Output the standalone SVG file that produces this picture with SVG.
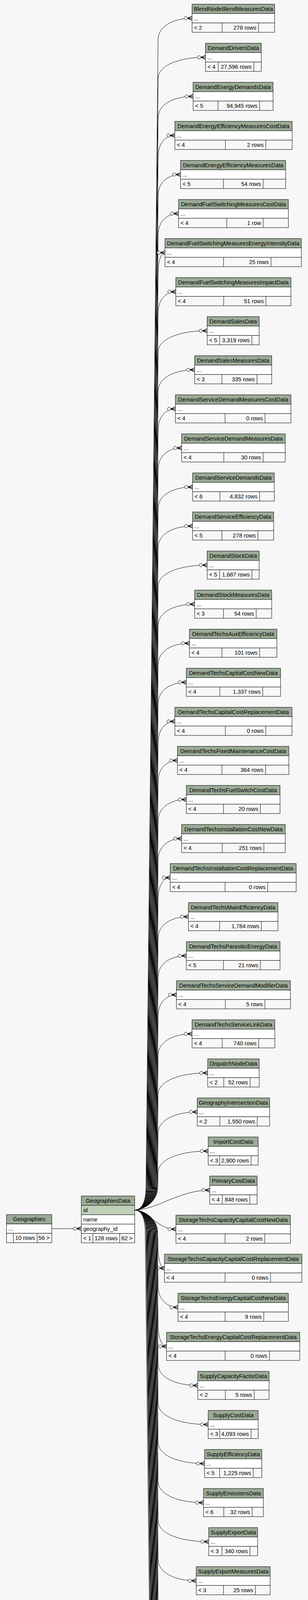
<svg xmlns="http://www.w3.org/2000/svg" width="789" height="6555" viewBox="0 0 789 6555">
<style>
text{font-family:"Liberation Sans",Arial,sans-serif;font-size:14.5px;fill:#000}
.c{text-anchor:middle}.e{text-anchor:end}
.h{fill:#9bab96;stroke:#000;stroke-width:1}
.w{fill:#fff;stroke:#000;stroke-width:1}
.f{fill:#f7f7f7;stroke:#000;stroke-width:1}
.k{fill:#bed1b8;stroke:#000;stroke-width:1}
.i{fill:#f4f7da;stroke:#000;stroke-width:1}
.d{fill:none;stroke:#000;stroke-width:1}
.ln{fill:none;stroke:#000;stroke-width:1;marker-end:url(#crow)}
.pl{fill:none;stroke:#000;stroke-width:1}
</style>
<defs>
<marker id="crow" markerUnits="userSpaceOnUse" orient="auto" refX="0" refY="0" markerWidth="24" markerHeight="16" viewBox="-22 -8 24 16" overflow="visible">
<path d="M-12 0L0 -5M-12 0L0 0M-12 0L0 5" fill="none" stroke="#000" stroke-width="1.5"/>
<circle cx="-16.3" cy="0" r="4.2" fill="#f7f7f7" stroke="#000" stroke-width="1"/>
</marker>
</defs>
<rect x="0" y="0" width="789" height="6555" fill="#f7f7f7"/>

<g id="connectors">
<path class="ln" d="M132.7 3145.3L208.3 3145.3"/>
<path class="ln" d="M345 3097.7C360 3097.7 374 3082.7 374 3037.7L405 101.7C405 66.7 444.2 46.7 492 46.7"/>
<path class="ln" d="M345 3097.7C360 3097.7 375 3082.7 375 3037.7L405 201.7C405 166.7 459.6 146.7 526.4 146.7"/>
<path class="ln" d="M345 3097.7C360 3097.7 376.1 3082.7 376.1 3037.7L405 301.7C405 266.7 445.4 246.7 494.7 246.7"/>
<path class="ln" d="M345 3097.7C360 3097.7 377.1 3082.7 377.1 3037.7L405 401.7C405 366.7 424.3 346.7 447.9 346.7"/>
<path class="ln" d="M345 3097.7C360 3097.7 378.1 3082.7 378.1 3037.7L405 501.7C405 466.7 430.9 446.7 462.5 446.7"/>
<path class="ln" d="M345 3097.7C360 3097.7 379.2 3082.7 379.2 3037.7L405 601.7C405 566.7 428.5 546.7 457.3 546.7"/>
<path class="ln" d="M345 3097.7C360 3097.7 380.2 3082.7 380.2 3037.7L405 701.7C405 666.7 413 646.7 422.7 646.7"/>
<path class="ln" d="M345 3097.7C360 3097.7 381.2 3082.7 381.2 3037.7L405 801.7C405 766.7 425.4 746.7 450.3 746.7"/>
<path class="ln" d="M345 3097.7C360 3097.7 382.3 3082.7 382.3 3037.7L405 901.7C405 866.7 461.6 846.7 530.7 846.7"/>
<path class="ln" d="M345 3097.7C360 3097.7 383.3 3082.7 383.3 3037.7L405 1001.7C405 966.7 447.2 946.7 498.7 946.7"/>
<path class="ln" d="M345 3097.7C360 3097.7 384.3 3082.7 384.3 3037.7L405 1101.7C405 1066.7 424.9 1046.7 449.3 1046.7"/>
<path class="ln" d="M345 3097.7C360 3097.7 385.4 3082.7 385.4 3037.7L405 1201.7C405 1166.7 432.1 1146.7 465.3 1146.7"/>
<path class="ln" d="M345 3097.7C360 3097.7 386.4 3082.7 386.4 3037.7L405 1301.7C405 1266.7 444.7 1246.7 493.3 1246.7"/>
<path class="ln" d="M345 3097.7C360 3097.7 387.4 3082.7 387.4 3037.7L405 1401.7C405 1366.7 444.7 1346.7 493.3 1346.7"/>
<path class="ln" d="M345 3097.7C360 3097.7 388.5 3082.7 388.5 3037.7L405 1501.7C405 1466.7 461.6 1446.7 530.7 1446.7"/>
<path class="ln" d="M345 3097.7C360 3097.7 389.5 3082.7 389.5 3037.7L405 1601.7C405 1566.7 447.2 1546.7 498.7 1546.7"/>
<path class="ln" d="M345 3097.7C360 3097.7 390.6 3082.7 390.6 3037.7L405 1701.7C405 1666.7 441.1 1646.7 485.3 1646.7"/>
<path class="ln" d="M345 3097.7C360 3097.7 391.6 3082.7 391.6 3037.7L405 1801.7C405 1766.7 437.5 1746.7 477.3 1746.7"/>
<path class="ln" d="M345 3097.7C360 3097.7 392.6 3082.7 392.6 3037.7L405 1901.7C405 1866.7 424.4 1846.7 448 1846.7"/>
<path class="ln" d="M345 3097.7C360 3097.7 393.7 3082.7 393.7 3037.7L405 2001.7C405 1966.7 427.4 1946.7 454.7 1946.7"/>
<path class="ln" d="M345 3097.7C360 3097.7 394.7 3082.7 394.7 3037.7L405 2101.7C405 2066.7 437.5 2046.7 477.3 2046.7"/>
<path class="ln" d="M345 3097.7C360 3097.7 395.7 3082.7 395.7 3037.7L405 2201.7C405 2166.7 432.1 2146.7 465.3 2146.7"/>
<path class="ln" d="M345 3097.7C360 3097.7 396.8 3082.7 396.8 3037.7L405 2301.7C405 2266.7 419 2246.7 436 2246.7"/>
<path class="ln" d="M345 3097.7C360 3097.7 397.8 3082.7 397.8 3037.7L405 2401.7C405 2366.7 440 2346.7 482.7 2346.7"/>
<path class="ln" d="M345 3097.7C360 3097.7 398.8 3082.7 398.8 3037.7L405 2501.7C405 2466.7 437.5 2446.7 477.3 2446.7"/>
<path class="ln" d="M345 3097.7C360 3097.7 399.9 3082.7 399.9 3037.7L405 2601.7C405 2566.7 426.2 2546.7 452 2546.7"/>
<path class="ln" d="M345 3097.7C360 3097.7 400.9 3082.7 400.9 3037.7L405 2701.7C405 2666.7 444.2 2646.7 492 2646.7"/>
<path class="ln" d="M345 3097.7C360 3097.7 401.9 3082.7 401.9 3037.7L405 2801.7C405 2766.7 462.2 2746.7 532 2746.7"/>
<path class="ln" d="M345 3097.7C360 3097.7 403 3082.7 403 3037.7L405 2901.7C405 2866.7 450.1 2846.7 505.3 2846.7"/>
<path class="ln" d="M345 3097.7C360 3097.7 404 3082.7 404 3037.7L405 3001.7C405 2966.7 462.7 2946.7 533.3 2946.7"/>
<path class="ln" d="M345 3097.7C400 3097.7 460 3046.7 537.3 3046.7"/>
<path class="ln" d="M345 3097.7C380 3097.7 400 3146.7 450.7 3146.7"/>
<path class="ln" d="M345 3097.7C360 3097.7 404 3112.7 404 3157.7L405 3191.7C405 3226.7 412.3 3246.7 421.3 3246.7"/>
<path class="ln" d="M345 3097.7C360 3097.7 402.9 3112.7 402.9 3157.7L405 3291.7C405 3326.7 427.9 3346.7 456 3346.7"/>
<path class="ln" d="M345 3097.7C360 3097.7 401.9 3112.7 401.9 3157.7L405 3391.7C405 3426.7 414.8 3446.7 426.7 3446.7"/>
<path class="ln" d="M345 3097.7C360 3097.7 400.8 3112.7 400.8 3157.7L405 3491.7C405 3526.7 450.8 3546.7 506.7 3546.7"/>
<path class="ln" d="M345 3097.7C360 3097.7 399.7 3112.7 399.7 3157.7L405 3591.7C405 3626.7 462.7 3646.7 533.3 3646.7"/>
<path class="ln" d="M345 3097.7C360 3097.7 398.7 3112.7 398.7 3157.7L405 3691.7C405 3726.7 458.6 3746.7 524 3746.7"/>
<path class="ln" d="M345 3097.7C360 3097.7 397.6 3112.7 397.6 3157.7L405 3791.7C405 3826.7 457.3 3846.7 521.3 3846.7"/>
<path class="ln" d="M345 3097.7C360 3097.7 396.5 3112.7 396.5 3157.7L405 3891.7C405 3926.7 463.4 3946.7 534.7 3946.7"/>
<path class="ln" d="M345 3097.7C360 3097.7 395.4 3112.7 395.4 3157.7L405 3991.7C405 4026.7 449 4046.7 502.7 4046.7"/>
<path class="ln" d="M345 3097.7C360 3097.7 394.4 3112.7 394.4 3157.7L405 4091.7C405 4126.7 443.6 4146.7 490.7 4146.7"/>
<path class="ln" d="M345 3097.7C360 3097.7 393.3 3112.7 393.3 3157.7L405 4191.7C405 4226.7 460.4 4246.7 528 4246.7"/>
<path class="ln" d="M345 3097.7C360 3097.7 392.2 3112.7 392.2 3157.7L405 4291.7C405 4326.7 462.7 4346.7 533.3 4346.7"/>
<path class="ln" d="M345 3097.7C360 3097.7 391.2 3112.7 391.2 3157.7L405 4391.7C405 4426.7 450.1 4446.7 505.3 4446.7"/>
<path class="ln" d="M345 3097.7C360 3097.7 390.1 3112.7 390.1 3157.7L405 4491.7C405 4526.7 455.5 4546.7 517.3 4546.7"/>
<path class="ln" d="M345 3097.7C360 3097.7 389 3112.7 389 3157.7L405 4591.7C405 4626.7 441.1 4646.7 485.3 4646.7"/>
<path class="ln" d="M345 3097.7C360 3097.7 388 3112.7 388 3157.7L405 4691.7C405 4726.7 460.9 4746.7 529.3 4746.7"/>
<path class="ln" d="M345 3097.7C360 3097.7 386.9 3112.7 386.9 3157.7L405 4791.7C405 4826.7 450.1 4846.7 505.3 4846.7"/>
<path class="ln" d="M345 3097.7C360 3097.7 385.8 3112.7 385.8 3157.7L405 4891.7C405 4926.7 441.1 4946.7 485.3 4946.7"/>
<path class="ln" d="M345 3097.7C360 3097.7 384.7 3112.7 384.7 3157.7L405 4991.7C405 5026.7 440 5046.7 482.7 5046.7"/>
<path class="ln" d="M345 3097.7C360 3097.7 383.7 3112.7 383.7 3157.7L405 5091.7C405 5126.7 426.7 5146.7 453.3 5146.7"/>
<path class="ln" d="M345 3097.7C360 3097.7 382.6 3112.7 382.6 3157.7L405 5191.7C405 5226.7 451.9 5246.7 509.3 5246.7"/>
<path class="ln" d="M345 3097.7C360 3097.7 381.5 3112.7 381.5 3157.7L405 5291.7C405 5326.7 444.7 5346.7 493.3 5346.7"/>
<path class="ln" d="M345 3097.7C360 3097.7 380.5 3112.7 380.5 3157.7L405 5391.7C405 5426.7 456.2 5446.7 518.7 5446.7"/>
<path class="ln" d="M345 3097.7C360 3097.7 379.4 3112.7 379.4 3157.7L405 5491.7C405 5526.7 449.6 5546.7 504 5546.7"/>
<path class="ln" d="M345 3097.7C360 3097.7 378.3 3112.7 378.3 3157.7L405 5591.7C405 5626.7 430.3 5646.7 461.3 5646.7"/>
<path class="ln" d="M345 3097.7C360 3097.7 377.3 3112.7 377.3 3157.7L405 5691.7C405 5726.7 434.6 5746.7 470.7 5746.7"/>
<path class="ln" d="M345 3097.7C360 3097.7 376.2 3112.7 376.2 3157.7L405 5791.7C405 5826.7 422 5846.7 442.7 5846.7"/>
<path class="ln" d="M345 3097.7C360 3097.7 375.1 3112.7 375.1 3157.7L405 5891.7C405 5926.7 433.4 5946.7 468 5946.7"/>
<path class="ln" d="M345 3097.7C360 3097.7 374 3112.7 374 3157.7L405 5991.7C405 6026.7 426.7 6046.7 453.3 6046.7"/>
<path class="ln" d="M345 3097.7C360 3097.7 372 3112.7 372 3157.7L405 6117.7C405 6152.7 428.9 6172.7 457 6172.7"/>
<path class="ln" d="M338 6118.7C385 6118.7 400 6196.7 457 6196.7"/>
<path class="ln" d="M356.3 6242.5C395 6242.5 410 6220.7 457 6220.7"/>
<path class="ln" d="M327.1 6388.7L457 6388.7"/>
</g>

<g id="t0" transform="translate(492 10.7)"><rect class="h" width="211.5" height="24"/><rect class="w" y="24" width="211.5" height="24"/><rect class="f" y="48" width="211.5" height="24"/><path class="d" d="M77 48v24M170.3 48v24"/><text class="c" x="105.75" y="17">BlendNodeBlendMeasuresData</text><text x="5" y="41">...</text><text x="5" y="65">&lt; 2</text><text class="e" x="164.8" y="65">278 rows</text></g>
<g id="t1" transform="translate(526.4 110.7)"><rect class="h" width="142.9" height="24"/><rect class="w" y="24" width="142.9" height="24"/><rect class="f" y="48" width="142.9" height="24"/><path class="d" d="M32.7 48v24M123.9 48v24"/><text class="c" x="71.45" y="17">DemandDriversData</text><text x="5" y="41">...</text><text x="5" y="65">&lt; 4</text><text class="e" x="118.4" y="65">27,596 rows</text></g>
<g id="t2" transform="translate(494.7 210.7)"><rect class="h" width="204.8" height="24"/><rect class="w" y="24" width="204.8" height="24"/><rect class="f" y="48" width="204.8" height="24"/><path class="d" d="M63.6 48v24M170.3 48v24"/><text class="c" x="102.4" y="17">DemandEnergyDemandsData</text><text x="5" y="41">...</text><text x="5" y="65">&lt; 5</text><text class="e" x="164.8" y="65">94,945 rows</text></g>
<g id="t3" transform="translate(447.9 310.7)"><rect class="h" width="300.5" height="24"/><rect class="w" y="24" width="300.5" height="24"/><rect class="f" y="48" width="300.5" height="24"/><path class="d" d="M129.6 48v24M233 48v24"/><text class="c" x="150.25" y="17">DemandEnergyEfficiencyMeasuresCostData</text><text x="5" y="41">...</text><text x="5" y="65">&lt; 4</text><text class="e" x="227.5" y="65">2 rows</text></g>
<g id="t4" transform="translate(462.5 410.7)"><rect class="h" width="269.3" height="24"/><rect class="w" y="24" width="269.3" height="24"/><rect class="f" y="48" width="269.3" height="24"/><path class="d" d="M109.9 48v24M211.6 48v24"/><text class="c" x="134.65" y="17">DemandEnergyEfficiencyMeasuresData</text><text x="5" y="41">...</text><text x="5" y="65">&lt; 5</text><text class="e" x="206.1" y="65">54 rows</text></g>
<g id="t5" transform="translate(457.3 510.7)"><rect class="h" width="281.4" height="24"/><rect class="w" y="24" width="281.4" height="24"/><rect class="f" y="48" width="281.4" height="24"/><path class="d" d="M123.6 48v24M216.9 48v24"/><text class="c" x="140.7" y="17">DemandFuelSwitchingMeasuresCostData</text><text x="5" y="41">...</text><text x="5" y="65">&lt; 4</text><text class="e" x="211.4" y="65">1 row</text></g>
<g id="t6" transform="translate(422.7 610.7)"><rect class="h" width="349.3" height="24"/><rect class="w" y="24" width="349.3" height="24"/><rect class="f" y="48" width="349.3" height="24"/><path class="d" d="M150 48v24M271.6 48v24"/><text class="c" x="174.65" y="17">DemandFuelSwitchingMeasuresEnergyIntensityData</text><text x="5" y="41">...</text><text x="5" y="65">&lt; 4</text><text class="e" x="266.1" y="65">25 rows</text></g>
<g id="t7" transform="translate(450.3 710.7)"><rect class="h" width="295" height="24"/><rect class="w" y="24" width="295" height="24"/><rect class="f" y="48" width="295" height="24"/><path class="d" d="M122.75 48v24M230.9 48v24"/><text class="c" x="147.5" y="17">DemandFuelSwitchingMeasuresImpactData</text><text x="5" y="41">...</text><text x="5" y="65">&lt; 4</text><text class="e" x="225.4" y="65">51 rows</text></g>
<g id="t8" transform="translate(530.7 810.7)"><rect class="h" width="133.3" height="24"/><rect class="w" y="24" width="133.3" height="24"/><rect class="f" y="48" width="133.3" height="24"/><path class="d" d="M32 48v24M114.6 48v24"/><text class="c" x="66.65" y="17">DemandSalesData</text><text x="5" y="41">...</text><text x="5" y="65">&lt; 5</text><text class="e" x="109.1" y="65">3,319 rows</text></g>
<g id="t9" transform="translate(498.7 910.7)"><rect class="h" width="197.3" height="24"/><rect class="w" y="24" width="197.3" height="24"/><rect class="f" y="48" width="197.3" height="24"/><path class="d" d="M69.9 48v24M159.6 48v24"/><text class="c" x="98.65" y="17">DemandSalesMeasuresData</text><text x="5" y="41">...</text><text x="5" y="65">&lt; 3</text><text class="e" x="154.1" y="65">335 rows</text></g>
<g id="t10" transform="translate(449.3 1010.7)"><rect class="h" width="296" height="24"/><rect class="w" y="24" width="296" height="24"/><rect class="f" y="48" width="296" height="24"/><path class="d" d="M127.3 48v24M229.6 48v24"/><text class="c" x="148" y="17">DemandServiceDemandMeasuresCostData</text><text x="5" y="41">...</text><text x="5" y="65">&lt; 4</text><text class="e" x="224.1" y="65">0 rows</text></g>
<g id="t11" transform="translate(465.3 1110.7)"><rect class="h" width="265.4" height="24"/><rect class="w" y="24" width="265.4" height="24"/><rect class="f" y="48" width="265.4" height="24"/><path class="d" d="M108 48v24M208.7 48v24"/><text class="c" x="132.7" y="17">DemandServiceDemandMeasuresData</text><text x="5" y="41">...</text><text x="5" y="65">&lt; 4</text><text class="e" x="203.2" y="65">30 rows</text></g>
<g id="t12" transform="translate(493.3 1210.7)"><rect class="h" width="209.4" height="24"/><rect class="w" y="24" width="209.4" height="24"/><rect class="f" y="48" width="209.4" height="24"/><path class="d" d="M69.9 48v24M171.7 48v24"/><text class="c" x="104.7" y="17">DemandServiceDemandsData</text><text x="5" y="41">...</text><text x="5" y="65">&lt; 6</text><text class="e" x="166.2" y="65">4,832 rows</text></g>
<g id="t13" transform="translate(493.3 1310.7)"><rect class="h" width="207.7" height="24"/><rect class="w" y="24" width="207.7" height="24"/><rect class="f" y="48" width="207.7" height="24"/><path class="d" d="M75.1 48v24M167.4 48v24"/><text class="c" x="103.85" y="17">DemandServiceEfficiencyData</text><text x="5" y="41">...</text><text x="5" y="65">&lt; 5</text><text class="e" x="161.9" y="65">278 rows</text></g>
<g id="t14" transform="translate(530.7 1410.7)"><rect class="h" width="133.3" height="24"/><rect class="w" y="24" width="133.3" height="24"/><rect class="f" y="48" width="133.3" height="24"/><path class="d" d="M32 48v24M114.6 48v24"/><text class="c" x="66.65" y="17">DemandStockData</text><text x="5" y="41">...</text><text x="5" y="65">&lt; 5</text><text class="e" x="109.1" y="65">1,687 rows</text></g>
<g id="t15" transform="translate(498.7 1510.7)"><rect class="h" width="197.3" height="24"/><rect class="w" y="24" width="197.3" height="24"/><rect class="f" y="48" width="197.3" height="24"/><path class="d" d="M73.9 48v24M157.6 48v24"/><text class="c" x="98.65" y="17">DemandStockMeasuresData</text><text x="5" y="41">...</text><text x="5" y="65">&lt; 3</text><text class="e" x="152.1" y="65">54 rows</text></g>
<g id="t16" transform="translate(485.3 1610.7)"><rect class="h" width="224" height="24"/><rect class="w" y="24" width="224" height="24"/><rect class="f" y="48" width="224" height="24"/><path class="d" d="M83.3 48v24M179.7 48v24"/><text class="c" x="112" y="17">DemandTechsAuxEfficiencyData</text><text x="5" y="41">...</text><text x="5" y="65">&lt; 4</text><text class="e" x="174.2" y="65">101 rows</text></g>
<g id="t17" transform="translate(477.3 1710.7)"><rect class="h" width="241.4" height="24"/><rect class="w" y="24" width="241.4" height="24"/><rect class="f" y="48" width="241.4" height="24"/><path class="d" d="M85.9 48v24M195.7 48v24"/><text class="c" x="120.7" y="17">DemandTechsCapitalCostNewData</text><text x="5" y="41">...</text><text x="5" y="65">&lt; 4</text><text class="e" x="190.2" y="65">1,337 rows</text></g>
<g id="t18" transform="translate(448 1810.7)"><rect class="h" width="300" height="24"/><rect class="w" y="24" width="300" height="24"/><rect class="f" y="48" width="300" height="24"/><path class="d" d="M129.3 48v24M232.7 48v24"/><text class="c" x="150" y="17">DemandTechsCapitalCostReplacementData</text><text x="5" y="41">...</text><text x="5" y="65">&lt; 4</text><text class="e" x="227.2" y="65">0 rows</text></g>
<g id="t19" transform="translate(454.7 1910.7)"><rect class="h" width="285.3" height="24"/><rect class="w" y="24" width="285.3" height="24"/><rect class="f" y="48" width="285.3" height="24"/><path class="d" d="M113.9 48v24M225.6 48v24"/><text class="c" x="142.65" y="17">DemandTechsFixedMaintenanceCostData</text><text x="5" y="41">...</text><text x="5" y="65">&lt; 4</text><text class="e" x="220.1" y="65">364 rows</text></g>
<g id="t20" transform="translate(477.3 2010.7)"><rect class="h" width="240" height="24"/><rect class="w" y="24" width="240" height="24"/><rect class="f" y="48" width="240" height="24"/><path class="d" d="M95.3 48v24M189.7 48v24"/><text class="c" x="120" y="17">DemandTechsFuelSwitchCostData</text><text x="5" y="41">...</text><text x="5" y="65">&lt; 4</text><text class="e" x="184.2" y="65">20 rows</text></g>
<g id="t21" transform="translate(465.3 2110.7)"><rect class="h" width="265.4" height="24"/><rect class="w" y="24" width="265.4" height="24"/><rect class="f" y="48" width="265.4" height="24"/><path class="d" d="M104 48v24M210.7 48v24"/><text class="c" x="132.7" y="17">DemandTechsInstallationCostNewData</text><text x="5" y="41">...</text><text x="5" y="65">&lt; 4</text><text class="e" x="205.2" y="65">251 rows</text></g>
<g id="t22" transform="translate(436 2210.7)"><rect class="h" width="322.7" height="24"/><rect class="w" y="24" width="322.7" height="24"/><rect class="f" y="48" width="322.7" height="24"/><path class="d" d="M140.7 48v24M249.7 48v24"/><text class="c" x="161.35" y="17">DemandTechsInstallationCostReplacementData</text><text x="5" y="41">...</text><text x="5" y="65">&lt; 4</text><text class="e" x="244.2" y="65">0 rows</text></g>
<g id="t23" transform="translate(482.7 2310.7)"><rect class="h" width="229.3" height="24"/><rect class="w" y="24" width="229.3" height="24"/><rect class="f" y="48" width="229.3" height="24"/><path class="d" d="M79.9 48v24M186.7 48v24"/><text class="c" x="114.65" y="17">DemandTechsMainEfficiencyData</text><text x="5" y="41">...</text><text x="5" y="65">&lt; 4</text><text class="e" x="181.2" y="65">1,784 rows</text></g>
<g id="t24" transform="translate(477.3 2410.7)"><rect class="h" width="240" height="24"/><rect class="w" y="24" width="240" height="24"/><rect class="f" y="48" width="240" height="24"/><path class="d" d="M95.3 48v24M189.7 48v24"/><text class="c" x="120" y="17">DemandTechsParasiticEnergyData</text><text x="5" y="41">...</text><text x="5" y="65">&lt; 5</text><text class="e" x="184.2" y="65">21 rows</text></g>
<g id="t25" transform="translate(452 2510.7)"><rect class="h" width="292" height="24"/><rect class="w" y="24" width="292" height="24"/><rect class="f" y="48" width="292" height="24"/><path class="d" d="M125.3 48v24M226.7 48v24"/><text class="c" x="146" y="17">DemandTechsServiceDemandModifierData</text><text x="5" y="41">...</text><text x="5" y="65">&lt; 4</text><text class="e" x="221.2" y="65">5 rows</text></g>
<g id="t26" transform="translate(492 2610.7)"><rect class="h" width="212" height="24"/><rect class="w" y="24" width="212" height="24"/><rect class="f" y="48" width="212" height="24"/><path class="d" d="M77.25 48v24M170.7 48v24"/><text class="c" x="106" y="17">DemandTechsServiceLinkData</text><text x="5" y="41">...</text><text x="5" y="65">&lt; 4</text><text class="e" x="165.2" y="65">740 rows</text></g>
<g id="t27" transform="translate(532 2710.7)"><rect class="h" width="132" height="24"/><rect class="w" y="24" width="132" height="24"/><rect class="f" y="48" width="132" height="24"/><path class="d" d="M41.25 48v24M108.7 48v24"/><text class="c" x="66" y="17">DispatchNodeData</text><text x="5" y="41">...</text><text x="5" y="65">&lt; 2</text><text class="e" x="103.2" y="65">52 rows</text></g>
<g id="t28" transform="translate(505.3 2810.7)"><rect class="h" width="185.4" height="24"/><rect class="w" y="24" width="185.4" height="24"/><rect class="f" y="48" width="185.4" height="24"/><path class="d" d="M57.9 48v24M153.7 48v24"/><text class="c" x="92.7" y="17">GeographyIntersectionData</text><text x="5" y="41">...</text><text x="5" y="65">&lt; 2</text><text class="e" x="148.2" y="65">1,550 rows</text></g>
<g id="t29" transform="translate(533.3 2910.7)"><rect class="h" width="128" height="24"/><rect class="w" y="24" width="128" height="24"/><rect class="f" y="48" width="128" height="24"/><path class="d" d="M29.5 48v24M110 48v24"/><text class="c" x="64" y="17">ImportCostData</text><text x="5" y="41">...</text><text x="5" y="65">&lt; 3</text><text class="e" x="104.5" y="65">2,900 rows</text></g>
<g id="t30" transform="translate(537.3 3010.7)"><rect class="h" width="121.4" height="24"/><rect class="w" y="24" width="121.4" height="24"/><rect class="f" y="48" width="121.4" height="24"/><path class="d" d="M32 48v24M102.7 48v24"/><text class="c" x="60.7" y="17">PrimaryCostData</text><text x="5" y="41">...</text><text x="5" y="65">&lt; 4</text><text class="e" x="97.2" y="65">848 rows</text></g>
<g id="t31" transform="translate(450.7 3110.7)"><rect class="h" width="293.3" height="24"/><rect class="w" y="24" width="293.3" height="24"/><rect class="f" y="48" width="293.3" height="24"/><path class="d" d="M126 48v24M227.6 48v24"/><text class="c" x="146.65" y="17">StorageTechsCapacityCapitalCostNewData</text><text x="5" y="41">...</text><text x="5" y="65">&lt; 4</text><text class="e" x="222.1" y="65">2 rows</text></g>
<g id="t32" transform="translate(421.3 3210.7)"><rect class="h" width="352" height="24"/><rect class="w" y="24" width="352" height="24"/><rect class="f" y="48" width="352" height="24"/><path class="d" d="M155.3 48v24M271.7 48v24"/><text class="c" x="176" y="17">StorageTechsCapacityCapitalCostReplacementData</text><text x="5" y="41">...</text><text x="5" y="65">&lt; 4</text><text class="e" x="266.2" y="65">0 rows</text></g>
<g id="t33" transform="translate(456 3310.7)"><rect class="h" width="282.7" height="24"/><rect class="w" y="24" width="282.7" height="24"/><rect class="f" y="48" width="282.7" height="24"/><path class="d" d="M120.65 48v24M219.7 48v24"/><text class="c" x="141.35" y="17">StorageTechsEnergyCapitalCostNewData</text><text x="5" y="41">...</text><text x="5" y="65">&lt; 4</text><text class="e" x="214.2" y="65">9 rows</text></g>
<g id="t34" transform="translate(426.7 3410.7)"><rect class="h" width="341.3" height="24"/><rect class="w" y="24" width="341.3" height="24"/><rect class="f" y="48" width="341.3" height="24"/><path class="d" d="M150 48v24M263.6 48v24"/><text class="c" x="170.65" y="17">StorageTechsEnergyCapitalCostReplacementData</text><text x="5" y="41">...</text><text x="5" y="65">&lt; 4</text><text class="e" x="258.1" y="65">0 rows</text></g>
<g id="t35" transform="translate(506.7 3510.7)"><rect class="h" width="182.6" height="24"/><rect class="w" y="24" width="182.6" height="24"/><rect class="f" y="48" width="182.6" height="24"/><path class="d" d="M70.6 48v24M144.6 48v24"/><text class="c" x="91.3" y="17">SupplyCapacityFactorData</text><text x="5" y="41">...</text><text x="5" y="65">&lt; 2</text><text class="e" x="139.1" y="65">5 rows</text></g>
<g id="t36" transform="translate(533.3 3610.7)"><rect class="h" width="128" height="24"/><rect class="w" y="24" width="128" height="24"/><rect class="f" y="48" width="128" height="24"/><path class="d" d="M29.5 48v24M110 48v24"/><text class="c" x="64" y="17">SupplyCostData</text><text x="5" y="41">...</text><text x="5" y="65">&lt; 3</text><text class="e" x="104.5" y="65">4,093 rows</text></g>
<g id="t37" transform="translate(524 3710.7)"><rect class="h" width="146.7" height="24"/><rect class="w" y="24" width="146.7" height="24"/><rect class="f" y="48" width="146.7" height="24"/><path class="d" d="M38.55 48v24M124.7 48v24"/><text class="c" x="73.35" y="17">SupplyEfficiencyData</text><text x="5" y="41">...</text><text x="5" y="65">&lt; 5</text><text class="e" x="119.2" y="65">1,225 rows</text></g>
<g id="t38" transform="translate(521.3 3810.7)"><rect class="h" width="153.4" height="24"/><rect class="w" y="24" width="153.4" height="24"/><rect class="f" y="48" width="153.4" height="24"/><path class="d" d="M52 48v24M124.7 48v24"/><text class="c" x="76.7" y="17">SupplyEmissionsData</text><text x="5" y="41">...</text><text x="5" y="65">&lt; 6</text><text class="e" x="119.2" y="65">32 rows</text></g>
<g id="t39" transform="translate(534.7 3910.7)"><rect class="h" width="125.3" height="24"/><rect class="w" y="24" width="125.3" height="24"/><rect class="f" y="48" width="125.3" height="24"/><path class="d" d="M33.9 48v24M105.6 48v24"/><text class="c" x="62.65" y="17">SupplyExportData</text><text x="5" y="41">...</text><text x="5" y="65">&lt; 3</text><text class="e" x="100.1" y="65">340 rows</text></g>
<g id="t40" transform="translate(502.7 4010.7)"><rect class="h" width="189.3" height="24"/><rect class="w" y="24" width="189.3" height="24"/><rect class="f" y="48" width="189.3" height="24"/><path class="d" d="M69.9 48v24M151.6 48v24"/><text class="c" x="94.65" y="17">SupplyExportMeasuresData</text><text x="5" y="41">...</text><text x="5" y="65">&lt; 3</text><text class="e" x="146.1" y="65">25 rows</text></g>
<g id="t41" transform="translate(490.7 4110.7)"><rect class="h" width="213.3" height="24"/><rect class="w" y="24" width="213.3" height="24"/><rect class="f" y="48" width="213.3" height="24"/><path class="d" d="M81.9 48v24M169.6 48v24"/><text class="c" x="106.65" y="17">SupplyPotentialConversionData</text><text x="5" y="41">...</text><text x="5" y="65">&lt; 3</text><text class="e" x="164.1" y="65">33 rows</text></g>
<g id="t42" transform="translate(528 4210.7)"><rect class="h" width="140" height="24"/><rect class="w" y="24" width="140" height="24"/><rect class="f" y="48" width="140" height="24"/><path class="d" d="M35.2 48v24M119.7 48v24"/><text class="c" x="70" y="17">SupplyPotentialData</text><text x="5" y="41">...</text><text x="5" y="65">&lt; 4</text><text class="e" x="114.2" y="65">5,846 rows</text></g>
<g id="t43" transform="translate(533.3 4310.7)"><rect class="h" width="128" height="24"/><rect class="w" y="24" width="128" height="24"/><rect class="f" y="48" width="128" height="24"/><path class="d" d="M29.5 48v24M110 48v24"/><text class="c" x="64" y="17">SupplySalesData</text><text x="5" y="41">...</text><text x="5" y="65">&lt; 4</text><text class="e" x="104.5" y="65">6,750 rows</text></g>
<g id="t44" transform="translate(505.3 4410.7)"><rect class="h" width="185.4" height="24"/><rect class="w" y="24" width="185.4" height="24"/><rect class="f" y="48" width="185.4" height="24"/><path class="d" d="M72 48v24M146.7 48v24"/><text class="c" x="92.7" y="17">SupplySalesMeasuresData</text><text x="5" y="41">...</text><text x="5" y="65">&lt; 4</text><text class="e" x="141.2" y="65">0 rows</text></g>
<g id="t45" transform="translate(517.3 4510.7)"><rect class="h" width="160" height="24"/><rect class="w" y="24" width="160" height="24"/><rect class="f" y="48" width="160" height="24"/><path class="d" d="M59.3 48v24M127.7 48v24"/><text class="c" x="80" y="17">SupplySalesShareData</text><text x="5" y="41">...</text><text x="5" y="65">&lt; 4</text><text class="e" x="122.2" y="65">9 rows</text></g>
<g id="t46" transform="translate(485.3 4610.7)"><rect class="h" width="224" height="24"/><rect class="w" y="24" width="224" height="24"/><rect class="f" y="48" width="224" height="24"/><path class="d" d="M87.25 48v24M177.7 48v24"/><text class="c" x="112" y="17">SupplySalesShareMeasuresData</text><text x="5" y="41">...</text><text x="5" y="65">&lt; 4</text><text class="e" x="172.2" y="65">22 rows</text></g>
<g id="t47" transform="translate(529.3 4710.7)"><rect class="h" width="136" height="24"/><rect class="w" y="24" width="136" height="24"/><rect class="f" y="48" width="136" height="24"/><path class="d" d="M29.4 48v24M118.7 48v24"/><text class="c" x="68" y="17">SupplyStockData</text><text x="5" y="41">...</text><text x="5" y="65">&lt; 4</text><text class="e" x="113.2" y="65">26,327 rows</text></g>
<g id="t48" transform="translate(505.3 4810.7)"><rect class="h" width="185.4" height="24"/><rect class="w" y="24" width="185.4" height="24"/><rect class="f" y="48" width="185.4" height="24"/><path class="d" d="M57.9 48v24M153.7 48v24"/><text class="c" x="92.7" y="17">SupplyStockMeasuresData</text><text x="5" y="41">...</text><text x="5" y="65">&lt; 4</text><text class="e" x="148.2" y="65">9,331 rows</text></g>
<g id="t49" transform="translate(485.3 4910.7)"><rect class="h" width="224" height="24"/><rect class="w" y="24" width="224" height="24"/><rect class="f" y="48" width="224" height="24"/><path class="d" d="M83.3 48v24M179.7 48v24"/><text class="c" x="112" y="17">SupplyTechsCapacityFactorData</text><text x="5" y="41">...</text><text x="5" y="65">&lt; 3</text><text class="e" x="174.2" y="65">240 rows</text></g>
<g id="t50" transform="translate(482.7 5010.7)"><rect class="h" width="229.3" height="24"/><rect class="w" y="24" width="229.3" height="24"/><rect class="f" y="48" width="229.3" height="24"/><path class="d" d="M85.9 48v24M183.6 48v24"/><text class="c" x="114.65" y="17">SupplyTechsCapitalCostNewData</text><text x="5" y="41">...</text><text x="5" y="65">&lt; 3</text><text class="e" x="178.1" y="65">937 rows</text></g>
<g id="t51" transform="translate(453.3 5110.7)"><rect class="h" width="288" height="24"/><rect class="w" y="24" width="288" height="24"/><rect class="f" y="48" width="288" height="24"/><path class="d" d="M123.3 48v24M223.7 48v24"/><text class="c" x="144" y="17">SupplyTechsCapitalCostReplacementData</text><text x="5" y="41">...</text><text x="5" y="65">&lt; 3</text><text class="e" x="218.2" y="65">2 rows</text></g>
<g id="t52" transform="translate(509.3 5210.7)"><rect class="h" width="177.4" height="24"/><rect class="w" y="24" width="177.4" height="24"/><rect class="f" y="48" width="177.4" height="24"/><path class="d" d="M57 48v24M132.8 48v24"/><text class="c" x="88.7" y="17">SupplyTechsCO2Capture</text><text x="5" y="41">...</text><text x="5" y="65">&lt; 7</text><text class="e" x="127.3" y="65">28 rows</text><text class="e" x="171.9" y="65">1 &gt;</text></g>
<g id="t53" transform="translate(493.3 5310.7)"><rect class="h" width="207.7" height="24"/><rect class="w" y="24" width="207.7" height="24"/><rect class="f" y="48" width="207.7" height="24"/><path class="d" d="M79.1 48v24M165.45 48v24"/><text class="c" x="103.85" y="17">SupplyTechsCO2CaptureData</text><text x="5" y="41">...</text><text x="5" y="65">&lt; 2</text><text class="e" x="159.95" y="65">28 rows</text></g>
<g id="t54" transform="translate(518.7 5410.7)"><rect class="h" width="157.3" height="24"/><rect class="w" y="24" width="157.3" height="24"/><rect class="f" y="48" width="157.3" height="24"/><path class="d" d="M42.95 48v24M119.2 48v24"/><text class="c" x="78.65" y="17">SupplyTechsEfficiency</text><text x="5" y="41">...</text><text x="5" y="65">&lt; 7</text><text class="e" x="113.7" y="65">105 rows</text><text class="e" x="151.8" y="65">1 &gt;</text></g>
<g id="t55" transform="translate(504 5510.7)"><rect class="h" width="188" height="24"/><rect class="w" y="24" width="188" height="24"/><rect class="f" y="48" width="188" height="24"/><path class="d" d="M59.2 48v24M155.7 48v24"/><text class="c" x="94" y="17">SupplyTechsEfficiencyData</text><text x="5" y="41">...</text><text x="5" y="65">&lt; 5</text><text class="e" x="150.2" y="65">4,561 rows</text></g>
<g id="t56" transform="translate(461.3 5610.7)"><rect class="h" width="273.4" height="24"/><rect class="w" y="24" width="273.4" height="24"/><rect class="f" y="48" width="273.4" height="24"/><path class="d" d="M108 48v24M216.7 48v24"/><text class="c" x="136.7" y="17">SupplyTechsFixedMaintenanceCostData</text><text x="5" y="41">...</text><text x="5" y="65">&lt; 3</text><text class="e" x="211.2" y="65">174 rows</text></g>
<g id="t57" transform="translate(470.7 5710.7)"><rect class="h" width="253.3" height="24"/><rect class="w" y="24" width="253.3" height="24"/><rect class="f" y="48" width="253.3" height="24"/><path class="d" d="M97.9 48v24M201.6 48v24"/><text class="c" x="126.65" y="17">SupplyTechsInstallationCostNewData</text><text x="5" y="41">...</text><text x="5" y="65">&lt; 3</text><text class="e" x="196.1" y="65">209 rows</text></g>
<g id="t58" transform="translate(442.7 5810.7)"><rect class="h" width="310.6" height="24"/><rect class="w" y="24" width="310.6" height="24"/><rect class="f" y="48" width="310.6" height="24"/><path class="d" d="M126.55 48v24M244.6 48v24"/><text class="c" x="155.3" y="17">SupplyTechsInstallationCostReplacementData</text><text x="5" y="41">...</text><text x="5" y="65">&lt; 3</text><text class="e" x="239.1" y="65">180 rows</text></g>
<g id="t59" transform="translate(468 5910.7)"><rect class="h" width="258.7" height="24"/><rect class="w" y="24" width="258.7" height="24"/><rect class="f" y="48" width="258.7" height="24"/><path class="d" d="M97.4 48v24M193.4 48v24"/><text class="c" x="129.35" y="17">SupplyTechsVariableMaintenanceCost</text><text x="5" y="41">...</text><text x="5" y="65">&lt; 9</text><text class="e" x="187.9" y="65">80 rows</text><text class="e" x="253.2" y="65">1 &gt;</text></g>
<g id="t60" transform="translate(453.3 6010.7)"><rect class="h" width="289.4" height="24"/><rect class="w" y="24" width="289.4" height="24"/><rect class="f" y="48" width="289.4" height="24"/><path class="d" d="M120 48v24M226.7 48v24"/><text class="c" x="144.7" y="17">SupplyTechsVariableMaintenanceCostData</text><text x="5" y="41">...</text><text x="5" y="65">&lt; 3</text><text class="e" x="221.2" y="65">68 rows</text></g>

<g id="Geographies" transform="translate(16.7 3109.3)"><rect class="h" width="116" height="24"/><rect class="w" y="24" width="116" height="24"/><rect class="f" y="48" width="116" height="24"/><path class="d" d="M17.6 48v24M78.6 48v24"/><text class="c" x="58" y="17">Geographies</text><text x="5" y="41">...</text><text class="e" x="73.1" y="65">10 rows</text><text class="e" x="110.5" y="65">56 &gt;</text></g>

<g id="GeographiesData" transform="translate(208.3 3061.7)"><rect class="h" width="136.7" height="24"/><rect class="k" y="24" width="136.7" height="24"/><rect class="w" y="48" width="136.7" height="24"/><rect class="w" y="72" width="136.7" height="24"/><rect class="f" y="96" width="136.7" height="24"/><path class="d" d="M29.7 96v24M98.4 96v24"/><text class="c" x="68.35" y="17">GeographiesData</text><text x="5" y="41">id</text><text x="5" y="65">name</text><text x="5" y="89">geography_id</text><text x="5" y="113">&lt; 1</text><text class="e" x="92.9" y="113">128 rows</text><text class="e" x="131.2" y="113">62 &gt;</text></g>

<g id="DispatchFeeders" transform="translate(216.7 6082.7)"><rect class="h" width="121.3" height="24"/><rect class="k" y="24" width="121.3" height="24"/><rect class="i" y="48" width="121.3" height="24"/><rect class="f" y="72" width="121.3" height="24"/><path class="d" d="M27.9 72v24M86.8 72v24"/><text class="c" x="60.65" y="17">DispatchFeeders</text><text x="5" y="41">id</text><text x="5" y="65">name</text><text class="e" x="81.3" y="89">3 rows</text><text class="e" x="115.8" y="89">1 &gt;</text></g>

<g id="FlexibleLoadShiftTypes" transform="translate(198.3 6206.7)"><rect class="h" width="158" height="24"/><rect class="k" y="24" width="158" height="24"/><rect class="w" y="48" width="158" height="24"/><rect class="f" y="72" width="158" height="24"/><path class="d" d="M46.3 72v24M114.7 72v24"/><text class="c" x="79" y="17">FlexibleLoadShiftTypes</text><text x="5" y="41">id</text><text x="5" y="65">name</text><text class="e" x="109.2" y="89">3 rows</text><text class="e" x="152.5" y="89">1 &gt;</text></g>

<g id="DayType" transform="translate(227.5 6353.3)"><rect class="h" width="99.6" height="24"/><rect class="k" y="24" width="99.6" height="24"/><rect class="w" y="48" width="99.6" height="24"/><rect class="f" y="72" width="99.6" height="24"/><path class="d" d="M17.1 72v24M70.5 72v24"/><text class="c" x="49.8" y="17">DayType</text><text x="5" y="41">id</text><text x="5" y="65">name</text><text class="e" x="65" y="89">2 rows</text><text class="e" x="94.1" y="89">1 &gt;</text></g>

<g id="ShapesData" transform="translate(458 6111.7)">
<rect class="h" x="1.5" y="1.5" width="276" height="23.5"/>
<rect class="w" x="1.5" y="25" width="276" height="336"/>
<rect class="k" x="1.5" y="337" width="155" height="24"/>
<rect class="f" x="1.5" y="361" width="276" height="24"/>
<path class="d" d="M1.5 49H277.5M1.5 73H277.5M1.5 97H277.5M1.5 121H277.5M1.5 145H277.5M1.5 169H277.5M1.5 193H277.5M1.5 217H277.5M1.5 241H277.5M1.5 265H277.5M1.5 289H277.5M1.5 313H277.5M1.5 337H277.5M156.5 25V385M44.3 361V385"/>
<rect x="0" y="0" width="278.8" height="385" fill="none" stroke="#000" stroke-width="3"/>
<text class="c" x="139.4" y="18">ShapesData</text>
<text x="5" y="42">parent_id</text><text x="161" y="42">int4[10]</text>
<text x="5" y="66">gau_id</text><text x="161" y="66">int4[10]</text>
<text x="5" y="90">dispatch_feeder</text><text x="161" y="90">int4[10]</text>
<text x="5" y="114">timeshift_type</text><text x="161" y="114">int4[10]</text>
<text x="5" y="138">resource_bin</text><text x="161" y="138">int4[10]</text>
<text x="5" y="162">dispatch_constraint_id</text><text x="161" y="162">int4[10]</text>
<text x="5" y="186">year</text><text x="161" y="186">int4[10]</text>
<text x="5" y="210">month</text><text x="161" y="210">int4[10]</text>
<text x="5" y="234">week</text><text x="161" y="234">int4[10]</text>
<text x="5" y="258">hour</text><text x="161" y="258">int4[10]</text>
<text x="5" y="282">day_type_id</text><text x="161" y="282">int4[10]</text>
<text x="5" y="306">weather_datetime</text><text x="161" y="306">text[2147483647]</text>
<text x="5" y="330">value</text><text x="161" y="330">float4[8,8]</text>
<text x="5" y="354">id</text><text x="161" y="354">serial[10]</text>
<text x="5" y="378">&lt; 4</text><text class="e" x="151" y="378">756,111 rows</text><text class="e" x="272" y="378">0 &gt;</text>
</g>

<text x="16" y="6539">Generated by SchemaSpy</text>
</svg>
